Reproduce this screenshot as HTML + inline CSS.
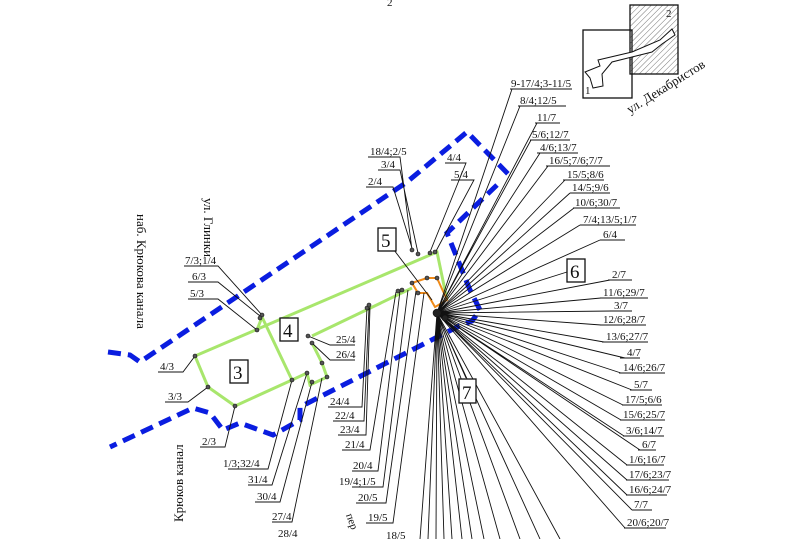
<!DOCTYPE html>
<html><head><meta charset="utf-8"><style>
html,body{margin:0;padding:0;background:#fff}
svg{display:block}
text{font-family:"Liberation Serif","DejaVu Serif",serif;font-size:11px;fill:#111}
</style></head><body>
<svg width="810" height="539" viewBox="0 0 810 539" xmlns="http://www.w3.org/2000/svg">
<defs>
<pattern id="h" width="4" height="4" patternUnits="userSpaceOnUse" patternTransform="rotate(45)"><line x1="0" y1="0" x2="0" y2="4" stroke="#777" stroke-width="1"/></pattern>
</defs>
<text x="387" y="6">2</text>
<rect x="630" y="5" width="48" height="69" fill="url(#h)" stroke="#111" stroke-width="1.3"/>
<rect x="583" y="30" width="49" height="68" fill="none" stroke="#111" stroke-width="1.3"/>
<path d="M585,72 L600,66 L598,60 L632,52 L660,40 L672,29 L675,35 L662,44 L652,52 L636,56 L612,62 L602,74 L603,86 L593,88 L590,78 Z" fill="#fff" stroke="#111" stroke-width="1"/>
<text x="666" y="17" font-size="12">2</text>
<text x="585" y="94" font-size="12">1</text>
<g fill="none" stroke="#0a1de0" stroke-width="5" stroke-dasharray="13,7">
<path d="M108,352 L130,355 L140,362 L407,182 L467,132 L512,178"/>
<path d="M497,185 L447,233 L470,290 L480,310 L472,321 L457,327 L300,407 L300,420 L273,435 L240,423 L223,430 L210,413 L193,408 L110,447"/>
</g>
<g fill="none" stroke="#a8e66c" stroke-width="3">
<path d="M195,356 L437,252 L447,300"/>
<path d="M195,356 L208,387 L235,406 L292,380 L307,373 L310,385 L327,377"/>
<path d="M262,317 L257,330 M262,317 L292,380"/>
<path d="M312,343 L322,363 L327,377"/>
<path d="M312,336 L412,288"/>
</g>
<path d="M412,283 L427,278 L437,278 L447,300 L435,307 L427,293 L418,293 Z" fill="none" stroke="#f08a18" stroke-width="2"/>
<g stroke="#111" stroke-width="0.9" fill="none">
<path d="M437,313 L512,89 M437,313 L520,106 M437,313 L537,123 M437,313 L531,140 M437,313 L540,153 M437,313 L548,166 M437,313 L565,180 M437,313 L570,193 M437,313 L574,208 M437,313 L580,225 M437,313 L600,240"/>
<path d="M437,313 L567,272 M437,313 L610,280 M437,313 L601,298 M437,313 L612,311 M437,313 L601,325 M437,313 L604,342 M437,313 L625,358 M437,313 L621,373 M437,313 L632,390 M437,313 L623,405 M437,313 L621,420 M437,313 L624,436 M437,313 L640,450 M437,313 L627,465 M437,313 L627,480 M437,313 L627,495 M437,313 L632,510 M437,313 L625,528 M437,313 L560,539"/>
<path d="M437,313 L420,539 M437,313 L428,539 M437,313 L436,539 M437,313 L444,539 M437,313 L452,539 M437,313 L462,539 M437,313 L472,539 M437,313 L484,539 M437,313 L500,539 M437,313 L520,539 M437,313 L540,539 M437,313 L466,378"/>
<path d="M432,300 L394,250"/>
<path d="M510,89 H572 M518,106 H566 M535,123 H560 M530,140 H570 M537,153 H578 M546,166 H610 M563,180 H604 M570,193 H610 M573,208 H620 M580,225 H636 M600,240 H625"/>
<path d="M608,280 H632 M600,298 H648 M610,311 H632 M600,325 H646 M602,342 H648 M620,358 H640 M619,373 H665 M630,390 H652 M622,405 H662 M620,420 H665 M623,436 H664 M638,450 H656 M626,465 H664 M626,480 H669 M626,495 H667 M632,510 H652 M624,528 H666"/>
<path d="M368,157 H400 L412,250 M378,170 H400 L418,253 M366,187 H393 L412,248 M445,163 H466 L430,252 M451,180 H474 L435,253"/>
<path d="M184,266 H218 L262,315 M188,282 H218 L260,316 M188,299 H218 L257,330 M158,372 H183 L195,356 M165,402 H188 L208,387 M200,447 H225 L235,406 M228,469 H268 L292,380 M248,485 H272 L307,373 M255,502 H280 L312,382 M272,522 H292 L322,378"/>
<path d="M308,336 L330,345 H355 M312,343 L330,360 H355"/>
<path d="M328,407 H362 L367,308 M333,421 H364 L369,308 M338,435 H366 L370,307 M342,450 H370 L396,292 M352,471 H378 L400,291 M352,487 H383 L408,290 M356,503 H386 L416,291 M366,523 H393 L424,293"/>
</g>
<g fill="#555" stroke="#111" stroke-width="0.6">
<circle cx="262" cy="315" r="2"/><circle cx="260" cy="318" r="2"/><circle cx="257" cy="330" r="2"/><circle cx="195" cy="356" r="2"/><circle cx="208" cy="387" r="2"/><circle cx="235" cy="406" r="2"/><circle cx="292" cy="380" r="2"/><circle cx="307" cy="373" r="2"/><circle cx="312" cy="382" r="2"/><circle cx="322" cy="363" r="2"/><circle cx="327" cy="377" r="2"/><circle cx="308" cy="336" r="2"/><circle cx="312" cy="343" r="2"/><circle cx="367" cy="308" r="2"/><circle cx="369" cy="305" r="2"/><circle cx="398" cy="291" r="2"/><circle cx="402" cy="290" r="2"/><circle cx="412" cy="283" r="2"/><circle cx="418" cy="293" r="2"/><circle cx="427" cy="278" r="2"/><circle cx="437" cy="278" r="2"/><circle cx="412" cy="250" r="2"/><circle cx="418" cy="254" r="2"/><circle cx="430" cy="253" r="2"/><circle cx="435" cy="252" r="2"/><circle cx="437" cy="313" r="4" fill="#222"/><circle cx="445" cy="318" r="3" fill="#222"/>
</g>
<g fill="#fff" stroke="#111" stroke-width="1.3">
<rect x="230" y="360" width="18" height="23"/><rect x="280" y="318" width="18" height="23"/><rect x="378" y="228" width="18" height="23"/><rect x="567" y="259" width="18" height="23"/><rect x="459" y="379" width="17" height="24"/>
</g>
<g><text x="233" y="379" style="font-size:19px">3</text><text x="283" y="337" style="font-size:19px">4</text><text x="381" y="247" style="font-size:19px">5</text><text x="570" y="278" style="font-size:19px">6</text><text x="462" y="399" style="font-size:19px">7</text></g>
<text x="511" y="87">9-17/4;3-11/5</text><text x="520" y="104">8/4;12/5</text><text x="537" y="121">11/7</text><text x="532" y="138">5/6;12/7</text><text x="540" y="151">4/6;13/7</text><text x="549" y="164">16/5;7/6;7/7</text><text x="567" y="178">15/5;8/6</text><text x="572" y="191">14/5;9/6</text><text x="575" y="206">10/6;30/7</text><text x="583" y="223">7/4;13/5;1/7</text><text x="603" y="238">6/4</text>
<text x="612" y="278">2/7</text><text x="603" y="296">11/6;29/7</text><text x="614" y="309">3/7</text><text x="603" y="323">12/6;28/7</text><text x="606" y="340">13/6;27/7</text><text x="627" y="356">4/7</text><text x="623" y="371">14/6;26/7</text><text x="634" y="388">5/7</text><text x="625" y="403">17/5;6/6</text><text x="623" y="418">15/6;25/7</text><text x="626" y="434">3/6;14/7</text><text x="642" y="448">6/7</text><text x="629" y="463">1/6;16/7</text><text x="629" y="478">17/6;23/7</text><text x="629" y="493">16/6;24/7</text><text x="634" y="508">7/7</text><text x="627" y="526">20/6;20/7</text>
<text x="370" y="155">18/4;2/5</text><text x="381" y="168">3/4</text><text x="368" y="185">2/4</text><text x="447" y="161">4/4</text><text x="454" y="178">5/4</text>
<text x="185" y="264">7/3;1/4</text><text x="192" y="280">6/3</text><text x="190" y="297">5/3</text><text x="160" y="370">4/3</text><text x="168" y="400">3/3</text><text x="202" y="445">2/3</text><text x="223" y="467">1/3;32/4</text><text x="248" y="483">31/4</text><text x="257" y="500">30/4</text><text x="272" y="520">27/4</text><text x="278" y="537">28/4</text>
<text x="336" y="343">25/4</text><text x="336" y="358">26/4</text>
<text x="330" y="405">24/4</text><text x="335" y="419">22/4</text><text x="340" y="433">23/4</text><text x="345" y="448">21/4</text><text x="353" y="469">20/4</text><text x="339" y="485">19/4;1/5</text><text x="358" y="501">20/5</text><text x="368" y="521">19/5</text><text x="386" y="539">18/5</text>
<text transform="translate(630,114) rotate(-32)" style="font-size:13px">ул. Декабристов</text>
<text transform="translate(137,214) rotate(90)" style="font-size:13px">наб. Крюкова канала</text>
<text transform="translate(204,198) rotate(90)" style="font-size:13px">ул. Глинки</text>
<text transform="translate(183,522) rotate(-90)" style="font-size:13px">Крюков канал</text>
<text transform="translate(346,515) rotate(70)" style="font-size:11px">пер</text>
</svg>
</body></html>
